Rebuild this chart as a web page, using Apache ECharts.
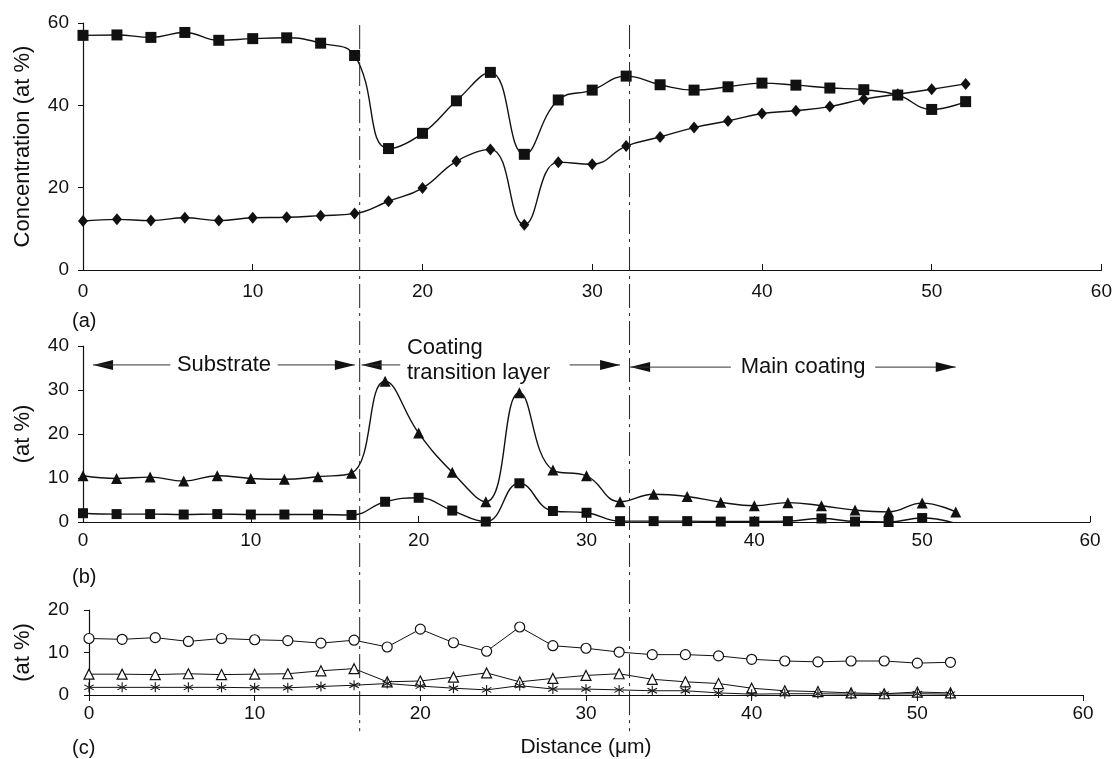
<!DOCTYPE html>
<html>
<head>
<meta charset="UTF-8">
<title>Concentration profile</title>
<script src="https://cdn.jsdelivr.net/npm/echarts@6/dist/echarts.min.js"></script>
<style>
    html, body { margin: 0; padding: 0; background: #fff; }
    #chart { width: 1115px; height: 759px; }
</style>
</head>
<body>
<div id="chart"></div>
<script>
// distance of every measuring point (um)
var distance = [0, 2, 4, 6, 8, 10, 12, 14, 16, 18, 20, 22, 24, 26, 28, 30, 32, 34, 36, 38, 40, 42, 44, 46, 48, 50, 52];

// (a) filled squares / filled diamonds
var aSquare = [57.0, 57.1, 56.5, 57.7, 55.8, 56.2, 56.4, 55.1, 52.1, 29.5, 33.2, 41.1, 48.0, 28.1, 41.3, 43.7, 47.1, 45.0, 43.7, 44.5, 45.4, 44.9, 44.2, 43.8, 42.5, 39.0, 40.9];
var aDiamond = [11.9, 12.3, 12.0, 12.7, 12.0, 12.7, 12.8, 13.2, 13.7, 16.7, 19.9, 26.4, 29.3, 11.0, 26.2, 25.7, 30.1, 32.3, 34.6, 36.2, 38.0, 38.7, 39.7, 41.5, 42.7, 43.9, 45.2];

// (b) filled triangles / filled squares
var bTriangle = [10.5, 9.9, 10.2, 9.3, 10.5, 9.9, 9.7, 10.3, 11.1, 32.0, 20.2, 11.3, 4.6, 29.4, 11.8, 10.5, 4.6, 6.3, 5.8, 4.5, 3.7, 4.4, 3.7, 2.7, 2.3, 4.3, 2.3];
var bSquare = [2.0, 1.8, 1.8, 1.7, 1.8, 1.7, 1.7, 1.7, 1.6, 4.6, 5.5, 2.6, 0.1, 8.8, 2.5, 2.1, 0.2, 0.2, 0.2, 0.1, 0.1, 0.2, 0.8, 0.1, 0.0, 0.9, -0.3];

// (c) open circles / open triangles / asterisks
var cCircle = [13.3, 13.1, 13.5, 12.6, 13.3, 13.0, 12.8, 12.2, 12.9, 11.3, 15.5, 12.3, 10.3, 16.0, 11.6, 11.0, 10.1, 9.5, 9.5, 9.2, 8.4, 8.0, 7.8, 8.0, 8.0, 7.5, 7.7];
var cTriangle = [4.9, 4.9, 4.8, 5.0, 4.8, 4.9, 5.0, 5.7, 6.2, 3.1, 3.3, 4.2, 5.2, 3.1, 3.9, 4.6, 5.0, 3.7, 3.1, 2.7, 1.6, 1.0, 0.8, 0.5, 0.3, 0.7, 0.5];
var cStar = [1.8, 1.8, 1.8, 1.8, 1.8, 1.7, 1.7, 2.0, 2.3, 2.7, 2.1, 1.6, 1.2, 2.2, 1.4, 1.4, 1.2, 1.0, 1.0, 0.5, 0.2, 0.3, 0.3, 0.2, 0.2, 0.3, 0.2];

// axis ranges
var xRange = [0, 60, 10];
var yRanges = [[0, 60, 20], [0, 40, 10], [0, 20, 10]];
var yNames = ['Concentration (at %)', '(at %)', '(at %)'];
var panelNames = ['(a)', '(b)', '(c)'];

// layer borders (um)
var borders = [16.3, 32.2];

var FONT = "'Liberation Sans', Arial, sans-serif";
var INK = '#111';

var chart = echarts.init(document.getElementById('chart'));

function pairs(arr) {
    return distance.map(function (d, i) { return [d, arr[i]]; });
}

// asterisk marker
var starPath = 'path://M9,0 L11,0 L11,20 L9,20 Z M0.84,5.87 L18.16,15.87 L19.16,14.13 L1.84,4.13 Z M1.84,15.87 L19.16,5.87 L18.16,4.13 L0.84,14.13 Z';

var grids = [
    { left: 83, top: 23, width: 1020, height: 247 },
    { left: 83, top: 346, width: 1007, height: 176 },
    { left: 89, top: 610, width: 994, height: 88 }
];
var xLabelMargin = [12, 9, 9];
var yLabelMargin = [14, 14, 20];

var xAxes = [], yAxes = [];
for (var g = 0; g < 3; g++) {
    xAxes.push({
        type: 'value', gridIndex: g,
        min: xRange[0], max: xRange[1], interval: xRange[2],
        axisLine: { show: true, onZero: false, lineStyle: { color: INK, width: 1.2 } },
        axisTick: { show: true, inside: g < 2, length: 6, lineStyle: { color: INK } },
        axisLabel: { color: INK, fontSize: 19, fontFamily: FONT, margin: xLabelMargin[g] },
        splitLine: { show: false },
        name: g === 2 ? 'Distance (\u03bcm)' : '',
        nameLocation: 'middle', nameGap: 42,
        nameTextStyle: { color: INK, fontSize: 21, fontFamily: FONT }
    });
    yAxes.push({
        type: 'value', gridIndex: g,
        min: yRanges[g][0], max: yRanges[g][1], interval: yRanges[g][2],
        axisLine: { show: true, lineStyle: { color: INK, width: 1.2 } },
        axisTick: { show: true, inside: false, length: 5, lineStyle: { color: INK } },
        axisLabel: { color: INK, fontSize: 19, fontFamily: FONT, margin: yLabelMargin[g] },
        splitLine: { show: false },
        name: yNames[g], nameLocation: 'middle',
        nameGap: g === 2 ? 55 : 49,
        nameTextStyle: { color: INK, fontSize: 22, fontFamily: FONT }
    });
}

function line(idx, data, symbol, size, smooth, open, width) {
    return {
        type: 'line', xAxisIndex: idx, yAxisIndex: idx,
        data: pairs(data), smooth: smooth,
        symbol: symbol, symbolSize: size,
        showSymbol: true,
        lineStyle: { color: INK, width: width },
        itemStyle: open ? { color: '#fff', borderColor: INK, borderWidth: 1.2 } : { color: INK, borderWidth: 0 },
        emphasis: { disabled: true },
        animation: false, z: 3
    };
}

var option = {
    backgroundColor: '#fff',
    animation: false,
    grid: grids,
    xAxis: xAxes,
    yAxis: yAxes,
    series: [
        line(0, aSquare, 'rect', 11, 0.45, false, 1.4),
        line(0, aDiamond, 'diamond', [10, 12], 0.45, false, 1.4),
        line(1, bTriangle, 'triangle', 11, 0.45, false, 1.4),
        line(1, bSquare, 'rect', 10, 0.45, false, 1.4),
        line(2, cCircle, 'circle', 10, false, true, 1),
        line(2, cTriangle, 'triangle', 10, false, true, 1),
        line(2, cStar, starPath, 10, false, false, 1)
    ]
};
chart.setOption(option);

// annotations, placed through the axes of each panel
function px(gi, x, y) {
    return chart.convertToPixel({ gridIndex: gi }, [x, y]);
}

var gfx = [];

// dashed layer borders running through all three panels
borders.forEach(function (b) {
    var top = px(0, b, 59.5);
    var bot = px(2, 0, -8.5);
    gfx.push({
        type: 'line', silent: true, z: 10,
        shape: { x1: top[0], y1: top[1], x2: top[0], y2: bot[1] },
        style: { stroke: '#222', lineWidth: 1, lineDash: [24, 5, 3, 5] }
    });
});

function arrowHead(p, dir) {
    var L = 20, H = 5;
    return {
        type: 'polygon', silent: true, z: 11,
        shape: { points: [[p[0], p[1]], [p[0] - dir * L, p[1] - H], [p[0] - dir * L, p[1] + H]] },
        style: { fill: INK }
    };
}
function seg(a, b) {
    return {
        type: 'line', silent: true, z: 11,
        shape: { x1: a[0], y1: a[1], x2: b[0], y2: b[1] },
        style: { stroke: '#333', lineWidth: 1 }
    };
}
function label(p, text, align) {
    return {
        type: 'text', silent: true, z: 11, x: p[0], y: p[1],
        style: { text: text, fill: INK, fontSize: 22, fontFamily: FONT, align: align, verticalAlign: 'middle' }
    };
}

// Substrate
var ySub = 35.7;
gfx.push(arrowHead(px(1, 0.6, ySub), -1));
gfx.push(seg(px(1, 0.6, ySub), px(1, 5.2, ySub)));
gfx.push(label(px(1, 8.4, ySub), 'Substrate', 'center'));
gfx.push(seg(px(1, 11.6, ySub), px(1, 16.2, ySub)));
gfx.push(arrowHead(px(1, 16.2, ySub), 1));

// Coating transition layer
gfx.push(arrowHead(px(1, 16.6, ySub), -1));
gfx.push(seg(px(1, 16.6, ySub), px(1, 18.9, ySub)));
gfx.push(label(px(1, 19.3, 39.6), 'Coating', 'left'));
gfx.push(label(px(1, 19.3, 33.9), 'transition layer', 'left'));
gfx.push(seg(px(1, 29.0, ySub), px(1, 32.0, ySub)));
gfx.push(arrowHead(px(1, 32.0, ySub), 1));

// Main coating
var yMain = 35.2;
gfx.push(arrowHead(px(1, 32.6, yMain), -1));
gfx.push(seg(px(1, 32.6, yMain), px(1, 38.6, yMain)));
gfx.push(label(px(1, 42.9, yMain), 'Main coating', 'center'));
gfx.push(seg(px(1, 47.2, yMain), px(1, 52.0, yMain)));
gfx.push(arrowHead(px(1, 52.0, yMain), 1));

// panel letters
var letterY = [321, 577, 748];
panelNames.forEach(function (n, i) {
    gfx.push({
        type: 'text', silent: true, x: 72, y: letterY[i],
        style: { text: n, fill: INK, fontSize: 20, fontFamily: FONT, align: 'left', verticalAlign: 'middle' }
    });
});

chart.setOption({ graphic: gfx });
</script>
</body>
</html>
